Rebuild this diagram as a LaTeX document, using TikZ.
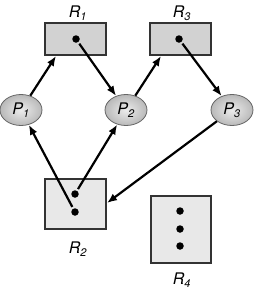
\documentclass[tikz,border=0pt]{standalone}
\usepackage{fontspec}
\setmainfont{TeX Gyre Heros}
\usetikzlibrary{shapes.geometric,arrows.meta}
\begin{document}
\begin{tikzpicture}[x=1pt,y=-1pt,
  res/.style={draw=black!80,line width=1.4pt,fill=#1},
  proc/.style={ellipse,draw=black!60,line width=0.8pt,minimum width=42pt,minimum height=31pt,inner sep=0pt,inner color=gray!15,outer color=gray!55},
  dotn/.style={circle,fill=black,inner sep=0pt,minimum width=7.5pt,minimum height=6.5pt,outer sep=2pt},
  lab/.style={font=\fontsize{16}{18}\selectfont\itshape},
  edge/.style={line width=2.2pt,-{Latex[length=10pt,width=8pt]}}]
\useasboundingbox (0,0) rectangle (254,292);
% resources
\draw[res=gray!35] (45,23) rectangle (106,55);
\draw[res=gray!35] (150,23) rectangle (211,55);
\draw[res=gray!18] (45,179) rectangle (106,229);
\draw[res=gray!18] (151,196) rectangle (211,263);
\node[lab] (r1l) at (78,13) {R\textsubscript{\fontsize{11}{12}\selectfont 1}};
\node[lab] (r3l) at (182,13) {R\textsubscript{\fontsize{11}{12}\selectfont 3}};
\node[lab] (r2l) at (78,249) {R\textsubscript{\fontsize{11}{12}\selectfont 2}};
\node[lab] (r4l) at (182,280) {R\textsubscript{\fontsize{11}{12}\selectfont 4}};
\node[dotn] (d1) at (76,39) {};
\node[dotn] (d3) at (179,39) {};
\node[dotn] (d2a) at (75,194) {};
\node[dotn] (d2b) at (75,212) {};
\node[dotn] (d4a) at (180,211) {};
\node[dotn] (d4b) at (180,229) {};
\node[dotn] (d4c) at (180,246) {};
% processes
\node[proc,lab] (p1) at (21,110) {P\textsubscript{\fontsize{11}{12}\selectfont 1}};
\node[proc,lab] (p2) at (126,110) {P\textsubscript{\fontsize{11}{12}\selectfont 2}};
\node[proc,lab] (p3) at (232,110) {P\textsubscript{\fontsize{11}{12}\selectfont 3}};
\coordinate (r1in) at (56,56);
\coordinate (r3in) at (161,56);
\coordinate (r2in) at (107,203);
% edges
\draw[edge] (p1) -- (r1in);
\draw[edge] (d1) -- (p2);
\draw[edge] (p2) -- (r3in);
\draw[edge] (d3) -- (p3);
\draw[edge] (d2b) -- (p1);
\draw[edge] (d2a) -- (p2);
\draw[edge] (p3) -- (r2in);
\end{tikzpicture}
\end{document}
